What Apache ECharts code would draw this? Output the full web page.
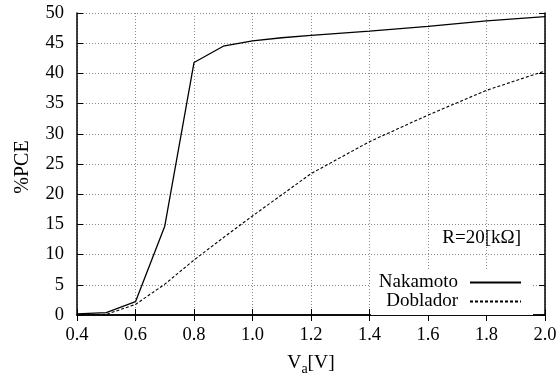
<!DOCTYPE html>
<html>
<head>
<meta charset="utf-8">
<script src="https://cdn.jsdelivr.net/npm/echarts@6/dist/echarts.min.js"></script>
<style>html,body{margin:0;padding:0;background:#fff;}#c{width:557px;height:377px;}</style>
</head>
<body>
<div id="c"></div>
<script>
const nakamotoX = [0.4, 0.5, 0.6, 0.7, 0.8, 0.9, 1.0, 1.1, 1.2, 1.4, 1.6, 1.8, 2.0];
const nakamotoY = [0.2, 0.4, 2.2, 14.7, 41.8, 44.5, 45.4, 45.9, 46.3, 47.0, 47.8, 48.7, 49.4];
const dobladorX = [0.4, 0.5, 0.6, 0.7, 0.8, 0.9, 1.0, 1.2, 1.4, 1.6, 1.8, 2.0];
const dobladorY = [0.0, 0.1, 1.75, 5.1, 9.1, 12.8, 16.4, 23.4, 28.7, 33.1, 37.2, 40.4];
const seriesNames = ['Nakamoto', 'Doblador'];
const xTicks = [0.4, 0.6, 0.8, 1.0, 1.2, 1.4, 1.6, 1.8, 2.0];
const yTicks = [0, 5, 10, 15, 20, 25, 30, 35, 40, 45, 50];
const annotation = 'R=20[kΩ]';

const FONT = 'Liberation Serif';
const chart = echarts.init(document.getElementById('c'), null, {renderer: 'canvas'});
const gridLine = {show: true, lineStyle: {color: '#8a8a8a', type: [1, 2], width: 1}};
const option = {
  animation: false,
  backgroundColor: '#fff',
  textStyle: {fontFamily: FONT},
  grid: {left: 77, right: 12, top: 13, bottom: 62, containLabel: false, outerBoundsMode: 'none', show: false},
  xAxis: [{
    type: 'value', min: xTicks[0], max: xTicks[xTicks.length - 1], interval: 0.2,
    axisLine: {show: true, lineStyle: {color: '#000', width: 1.5}},
    axisTick: {show: true, inside: true, length: 6, lineStyle: {color: '#000'}},
    axisLabel: {fontFamily: FONT, fontSize: 18.5, color: '#000', margin: 11, formatter: v => v.toFixed(1)},
    splitLine: gridLine,
    name: 'V{sub|a}[V]', nameLocation: 'middle', nameGap: 35,
    nameTextStyle: {fontFamily: FONT, fontSize: 19.5, color: '#000',
      rich: {sub: {fontFamily: FONT, fontSize: 14, color: '#000', padding: [12, 0, 0, 0]}}}
  }, {
    type: 'value', position: 'top', min: xTicks[0], max: xTicks[xTicks.length - 1], interval: 0.2,
    axisLine: {show: true, lineStyle: {color: '#000', width: 1.5}},
    axisTick: {show: true, inside: true, length: 6, lineStyle: {color: '#000'}},
    axisLabel: {show: false}, splitLine: {show: false}
  }],
  yAxis: [{
    type: 'value', min: yTicks[0], max: yTicks[yTicks.length - 1], interval: 5,
    axisLine: {show: true, lineStyle: {color: '#000', width: 1.5}},
    axisTick: {show: true, inside: true, length: 6, lineStyle: {color: '#000'}},
    axisLabel: {fontFamily: FONT, fontSize: 18.5, color: '#000', margin: 13},
    splitLine: gridLine,
    name: '%PCE', nameLocation: 'middle', nameGap: 44,
    nameTextStyle: {fontFamily: FONT, fontSize: 20, color: '#000', padding: [0, 6, 0, 0]}
  }, {
    type: 'value', position: 'right', min: yTicks[0], max: yTicks[yTicks.length - 1], interval: 5,
    axisLine: {show: true, lineStyle: {color: '#000', width: 1.5}},
    axisTick: {show: true, inside: true, length: 6, lineStyle: {color: '#000'}},
    axisLabel: {show: false}, splitLine: {show: false}
  }],
  legend: {
    orient: 'vertical', right: 24, top: 269, align: 'right',
    backgroundColor: '#fff', padding: [4, 11, 4, 8],
    itemWidth: 51, itemHeight: 14, itemGap: 0,
    itemStyle: {opacity: 0},
    textStyle: {fontFamily: FONT, fontSize: 19, color: '#000', lineHeight: 18.5, padding: [0, 7, 0, 0]},
    data: seriesNames
  },
  graphic: [{
    type: 'text', right: 36, top: 229,
    style: {text: annotation, fontFamily: FONT, fontSize: 19, fill: '#000'}
  }],
  series: [{
    name: seriesNames[0], type: 'line', symbol: 'none', showSymbol: false, z: 3,
    lineStyle: {color: '#000', width: 1.3, type: 'solid'},
    itemStyle: {color: '#000'},
    data: nakamotoX.map((x, i) => [x, nakamotoY[i]])
  }, {
    name: seriesNames[1], type: 'line', symbol: 'none', showSymbol: false, z: 3,
    lineStyle: {color: '#000', width: 1.1, type: [3, 2]},
    itemStyle: {color: '#000'},
    data: dobladorX.map((x, i) => [x, dobladorY[i]])
  }]
};
chart.setOption(option);
</script>
</body>
</html>
